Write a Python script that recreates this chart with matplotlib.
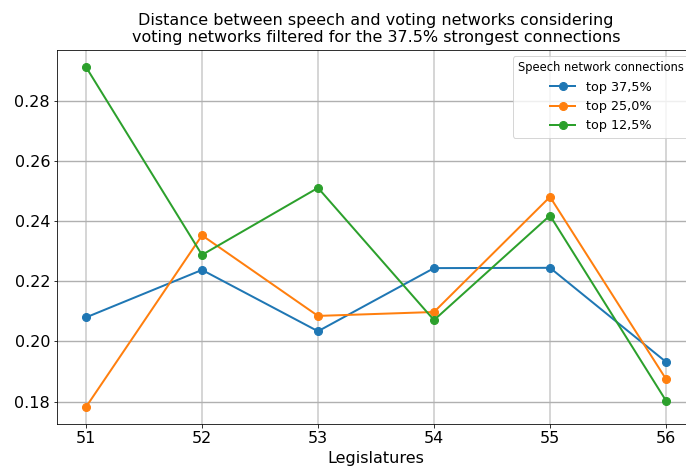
import matplotlib
matplotlib.use("Agg")
import matplotlib.pyplot as plt

legislatures = [51, 52, 53, 54, 55, 56]
top_37_5 = [0.2080, 0.2238, 0.2034, 0.2244, 0.2245, 0.1932]
top_25_0 = [0.1782, 0.2353, 0.2085, 0.2098, 0.2481, 0.1875]
top_12_5 = [0.2913, 0.2288, 0.2511, 0.2071, 0.2419, 0.1803]
series_labels = ["top 37,5%", "top 25,0%", "top 12,5%"]
yticks = [0.18, 0.20, 0.22, 0.24, 0.26, 0.28]

DPI = 72
fig = plt.figure(figsize=(686 / DPI, 468 / DPI), dpi=DPI)
ax = fig.add_axes([57 / 686, 1 - 424 / 468, 638 / 686, 374 / 468])

for vals, lab in zip([top_37_5, top_25_0, top_12_5], series_labels):
    ax.plot(legislatures, vals, marker="o", markersize=8, linewidth=2, label=lab)

ax.set_yticks(yticks)
ax.set_yticklabels([f"{v:.2f}" for v in yticks])
ax.tick_params(labelsize=16)
ax.grid(axis="x", color="#cccccc", linewidth=1.6)
ax.grid(axis="y", color="#b0b0b0", linewidth=1.4)
ax.set_xlabel("Legislatures", fontsize=16, labelpad=4.5)
ax.set_title("Distance between speech and voting networks considering\n"
             "voting networks filtered for the 37.5% strongest connections",
             fontsize=16, pad=8)
ax.legend(title="Speech network connections", fontsize=12.7, title_fontsize=11.5,
          loc="upper right")

fig.savefig("out.png", dpi=DPI)
